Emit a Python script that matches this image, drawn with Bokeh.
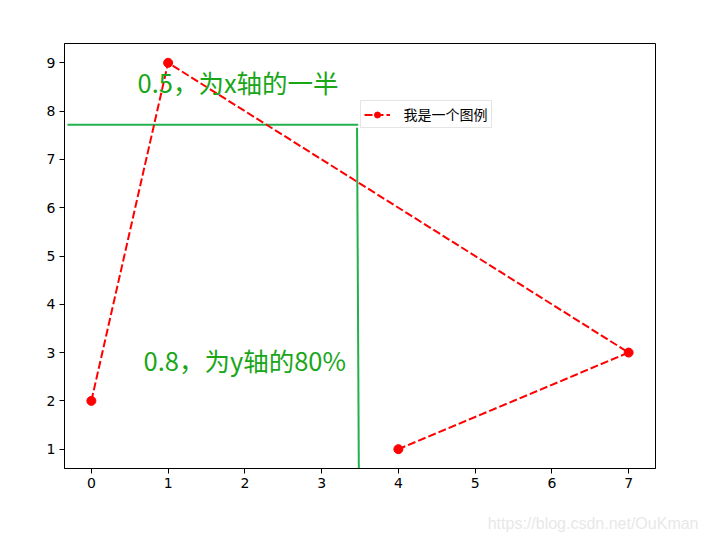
from bokeh.plotting import figure
from bokeh.models import Range1d, Label, Title
from bokeh.embed import file_html
from bokeh.resources import INLINE

# data
xs = [0, 1, 7, 4]
ys = [2, 9, 3, 1]
legend_text = "我是一个图例"

# legend anchor, in axes fractions
anchor_x = 0.5
anchor_y = 0.8

note_x = "0.5，为x轴的一半"
note_y = "0.8，为y轴的80%"
watermark = "https://blog.csdn.net/OuKman"

# ranges with matplotlib-like 5% margins
def pad(vals, m=0.05):
    lo, hi = min(vals), max(vals)
    d = (hi - lo) * m
    return lo - d, hi + d

x0, x1 = pad(xs)
y0, y1 = pad(ys)

def fx(f):
    return x0 + f * (x1 - x0)

def fy(f):
    return y0 + f * (y1 - y0)

FW, FH = 591, 425

p = figure(frame_width=FW, frame_height=FH,
           x_range=Range1d(x0, x1), y_range=Range1d(y0, y1),
           output_backend="svg", toolbar_location=None,
           min_border_left=64, min_border_right=51,
           min_border_top=43, min_border_bottom=77)
p.background_fill_color = "white"
p.border_fill_color = "white"
p.outline_line_color = "black"
p.outline_line_alpha = 1
p.outline_line_width = 1
p.grid.visible = False

for ax in (p.xaxis, p.yaxis):
    ax.axis_line_color = "black"
    ax.major_tick_out = 5
    ax.major_tick_in = 0
    ax.minor_tick_line_color = None
    ax.major_label_text_font = "DejaVu Sans"
    ax.major_label_text_font_size = "14px"
    ax.major_label_text_color = "black"
    ax.major_label_standoff = 4
p.xaxis.ticker = list(range(0, 8))
p.yaxis.ticker = list(range(1, 10))

# the green guide lines to the legend corner (drawn by hand in the original)
green = "#22b14c"
p.segment(x0=[fx(0.005)], y0=[fy(0.809)], x1=[fx(0.497)], y1=[fy(0.809)],
          line_color=green, line_width=2)
p.segment(x0=[fx(0.495)], y0=[fy(0.802)], x1=[fx(0.498)], y1=[fy(0.0)],
          line_color=green, line_width=2)

p.line(xs, ys, line_color="red", line_width=2, line_dash="8 3",
       legend_label=legend_text)
p.scatter(xs, ys, size=9, fill_color="red", line_color="red",
          legend_label=legend_text)

lg = p.legend[0]
lg.location = (anchor_x * FW, anchor_y * FH)
lg.border_line_color = "#cccccc"
lg.border_line_width = 1
lg.background_fill_color = "white"
lg.background_fill_alpha = 0.8
lg.label_text_font = "Noto Sans CJK SC"
lg.label_text_font_size = "14px"
lg.label_text_color = "black"
lg.margin = 0
lg.padding = 3
lg.spacing = 0
lg.glyph_width = 26
lg.glyph_height = 15
lg.label_height = 15
lg.label_standoff = 14

text_green = "#19a619"
p.add_layout(Label(x=fx(0.1235), y=fy(0.911), text=note_x,
                   text_font="Noto Sans CJK SC", text_font_size="25.5px",
                   text_color=text_green, text_baseline="middle"))
p.add_layout(Label(x=fx(0.1337), y=fy(0.257), text=note_y,
                   text_font="Noto Sans CJK SC", text_font_size="25.5px",
                   text_color=text_green, text_baseline="middle"))

# blog watermark at the bottom right of the picture
wm = Title(text=watermark, align="right", offset=-43, standoff=45,
           text_font="Liberation Sans", text_font_size="16px",
           text_font_style="normal", text_color="#e8e8e8")
p.add_layout(wm, "below")

open("out.html", "w").write(file_html(p, INLINE))
